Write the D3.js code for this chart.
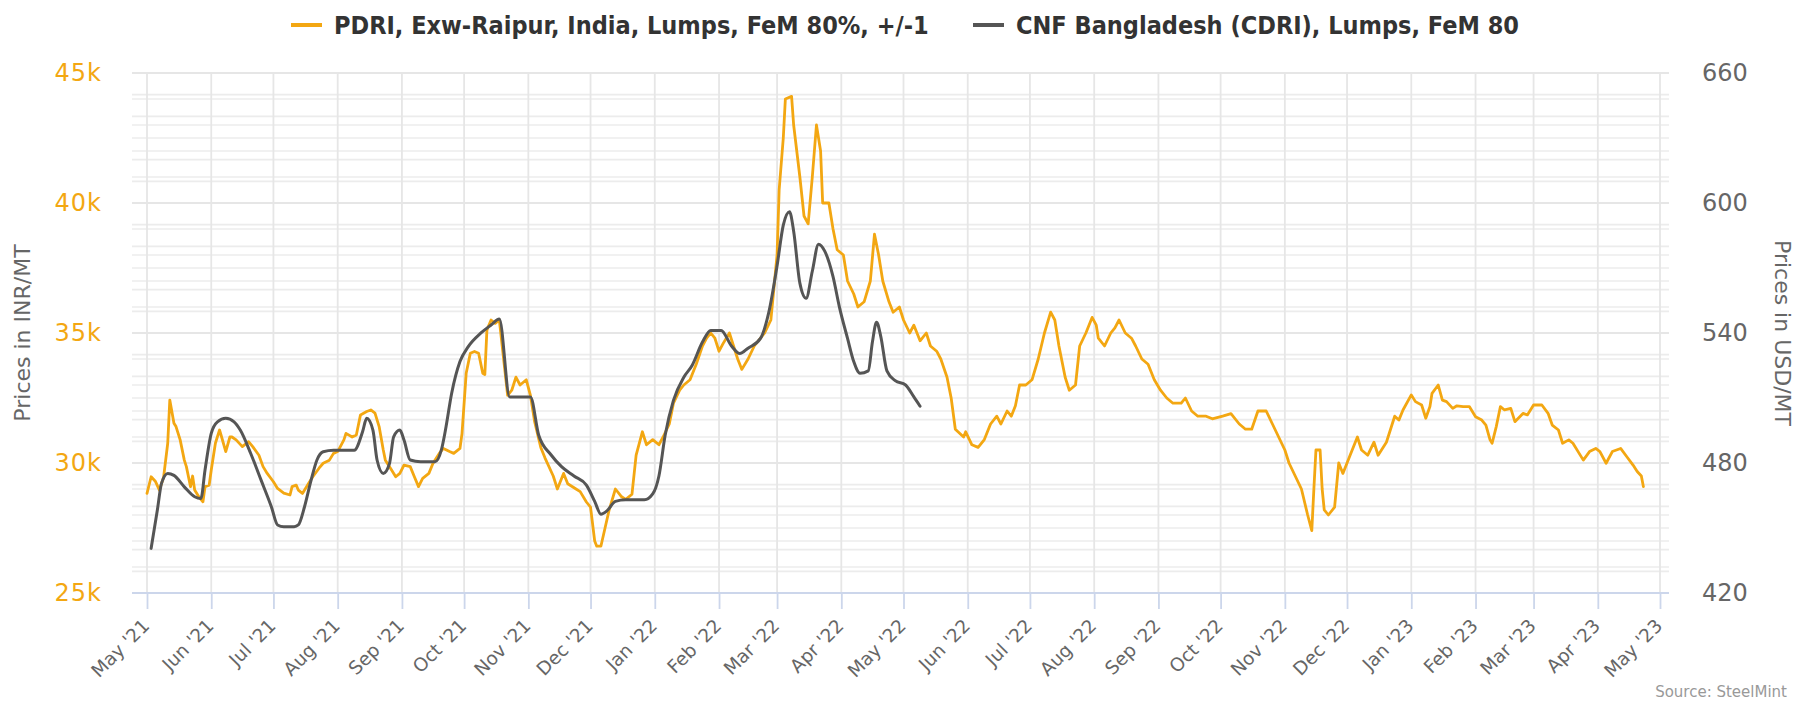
<!DOCTYPE html>
<html>
<head>
<meta charset="utf-8">
<script src="https://cdn.jsdelivr.net/npm/d3@7"></script>
<style>
  html, body { margin: 0; padding: 0; background: #fff; }
  svg { display: block; }
</style>
</head>
<body>
<svg id="chart"></svg>
<script>
// series names, axis titles
const seriesNames = ["PDRI, Exw-Raipur, India, Lumps, FeM 80%, +/-1", "CNF Bangladesh (CDRI), Lumps, FeM 80"];
const axisTitles = ["Prices in INR/MT", "Prices in USD/MT"];
const sourceText = "Source: SteelMint";

// tick values
const xTickStart = "2021-05-01";
const xTickEnd = "2023-05-01";
const leftTicks = [25000, 30000, 35000, 40000, 45000];
const rightTicks = [420, 480, 540, 600, 660];
const leftMinorStep = 1000;
const rightMinorStep = 10;

// PDRI Raipur, INR/MT (left axis)
const pdriRaipur = [
  ["2021-05-01", 28835], ["2021-05-03", 29470], ["2021-05-05", 29300], ["2021-05-07", 28960],
  ["2021-05-09", 29450], ["2021-05-11", 30760], ["2021-05-12", 32420], ["2021-05-14", 31530],
  ["2021-05-15", 31400], ["2021-05-17", 30890], ["2021-05-19", 30110], ["2021-05-20", 29860],
  ["2021-05-22", 29090], ["2021-05-23", 29500], ["2021-05-24", 28960], ["2021-05-26", 28700],
  ["2021-05-28", 28510], ["2021-05-29", 29090], ["2021-05-31", 29150], ["2021-06-01", 29730],
  ["2021-06-03", 30760], ["2021-06-05", 31270], ["2021-06-06", 31000], ["2021-06-08", 30440],
  ["2021-06-10", 31000], ["2021-06-11", 31000], ["2021-06-13", 30890], ["2021-06-16", 30630],
  ["2021-06-19", 30820], ["2021-06-21", 30630], ["2021-06-24", 30300], ["2021-06-26", 29860],
  ["2021-06-28", 29600], ["2021-07-01", 29280], ["2021-07-03", 29020], ["2021-07-06", 28840],
  ["2021-07-09", 28770], ["2021-07-10", 29090], ["2021-07-12", 29150], ["2021-07-13", 28960],
  ["2021-07-15", 28830], ["2021-07-18", 29220], ["2021-07-20", 29470], ["2021-07-23", 29800],
  ["2021-07-25", 29990], ["2021-07-28", 30110], ["2021-07-30", 30370], ["2021-08-01", 30440],
  ["2021-08-04", 30890], ["2021-08-05", 31140], ["2021-08-08", 31000], ["2021-08-10", 31080],
  ["2021-08-12", 31850], ["2021-08-15", 31980], ["2021-08-17", 32040], ["2021-08-19", 31920],
  ["2021-08-21", 31400], ["2021-08-23", 30500], ["2021-08-24", 30110], ["2021-08-27", 29730],
  ["2021-08-29", 29470], ["2021-08-31", 29600], ["2021-09-02", 29920], ["2021-09-05", 29860],
  ["2021-09-07", 29470], ["2021-09-09", 29090], ["2021-09-11", 29410], ["2021-09-14", 29600],
  ["2021-09-16", 29990], ["2021-09-19", 30370], ["2021-09-21", 30560], ["2021-09-24", 30440],
  ["2021-09-26", 30370], ["2021-09-29", 30560], ["2021-09-30", 31140], ["2021-10-02", 33450],
  ["2021-10-04", 34220], ["2021-10-06", 34290], ["2021-10-08", 34220], ["2021-10-10", 33450],
  ["2021-10-11", 33400], ["2021-10-12", 35110], ["2021-10-14", 35500], ["2021-10-16", 35370],
  ["2021-10-18", 35500], ["2021-10-22", 32600], ["2021-10-24", 32800], ["2021-10-26", 33300],
  ["2021-10-28", 33000], ["2021-10-31", 33200], ["2021-11-02", 32600], ["2021-11-04", 31600],
  ["2021-11-07", 30600], ["2021-11-09", 30200], ["2021-11-13", 29500], ["2021-11-15", 29000],
  ["2021-11-18", 29600], ["2021-11-20", 29200], ["2021-11-24", 29000], ["2021-11-26", 28900],
  ["2021-11-29", 28500], ["2021-12-01", 28300], ["2021-12-03", 27000], ["2021-12-04", 26800],
  ["2021-12-06", 26800], ["2021-12-08", 27500], ["2021-12-10", 28200], ["2021-12-13", 29000],
  ["2021-12-16", 28700], ["2021-12-18", 28600], ["2021-12-21", 28800], ["2021-12-23", 30300],
  ["2021-12-26", 31200], ["2021-12-28", 30700], ["2021-12-31", 30900], ["2022-01-03", 30700],
  ["2022-01-05", 31000], ["2022-01-08", 31500], ["2022-01-10", 32300], ["2022-01-13", 32800],
  ["2022-01-15", 33000], ["2022-01-18", 33200], ["2022-01-21", 33800], ["2022-01-24", 34500],
  ["2022-01-26", 34800], ["2022-01-28", 35000], ["2022-01-30", 34800], ["2022-02-01", 34300],
  ["2022-02-03", 34600], ["2022-02-06", 35000], ["2022-02-08", 34500], ["2022-02-10", 34000],
  ["2022-02-12", 33600], ["2022-02-15", 34000], ["2022-02-18", 34500], ["2022-02-21", 34800],
  ["2022-02-23", 35000], ["2022-02-26", 35500], ["2022-03-01", 38000], ["2022-03-02", 40500],
  ["2022-03-04", 42500], ["2022-03-05", 44000], ["2022-03-08", 44100], ["2022-03-09", 43000],
  ["2022-03-12", 41000], ["2022-03-14", 39500], ["2022-03-16", 39200], ["2022-03-18", 41000],
  ["2022-03-20", 43000], ["2022-03-22", 42000], ["2022-03-23", 40000], ["2022-03-26", 40000],
  ["2022-03-28", 39000], ["2022-03-30", 38200], ["2022-04-02", 38000], ["2022-04-04", 37000],
  ["2022-04-07", 36500], ["2022-04-09", 36000], ["2022-04-12", 36200], ["2022-04-15", 37000],
  ["2022-04-17", 38800], ["2022-04-19", 38000], ["2022-04-21", 37000], ["2022-04-24", 36200],
  ["2022-04-26", 35800], ["2022-04-29", 36000], ["2022-05-01", 35500], ["2022-05-04", 35000],
  ["2022-05-06", 35300], ["2022-05-09", 34700], ["2022-05-12", 35000], ["2022-05-14", 34500],
  ["2022-05-17", 34300], ["2022-05-19", 34000], ["2022-05-22", 33300], ["2022-05-24", 32500],
  ["2022-05-26", 31300], ["2022-05-30", 31000], ["2022-05-31", 31200], ["2022-06-03", 30700],
  ["2022-06-06", 30600], ["2022-06-09", 30900], ["2022-06-12", 31500], ["2022-06-15", 31800],
  ["2022-06-17", 31500], ["2022-06-20", 32000], ["2022-06-22", 31800], ["2022-06-24", 32200],
  ["2022-06-26", 33000], ["2022-06-29", 33000], ["2022-07-02", 33200], ["2022-07-05", 34000],
  ["2022-07-08", 35000], ["2022-07-11", 35800], ["2022-07-13", 35500], ["2022-07-15", 34500],
  ["2022-07-18", 33300], ["2022-07-20", 32800], ["2022-07-23", 33000], ["2022-07-25", 34500],
  ["2022-07-28", 35000], ["2022-07-31", 35600], ["2022-08-02", 35300], ["2022-08-03", 34800],
  ["2022-08-06", 34500], ["2022-08-09", 35000], ["2022-08-11", 35200], ["2022-08-13", 35500],
  ["2022-08-16", 35000], ["2022-08-19", 34800], ["2022-08-21", 34500], ["2022-08-24", 34000],
  ["2022-08-27", 33800], ["2022-08-30", 33200], ["2022-09-02", 32800], ["2022-09-05", 32500],
  ["2022-09-08", 32300], ["2022-09-12", 32300], ["2022-09-14", 32500], ["2022-09-17", 32000],
  ["2022-09-20", 31800], ["2022-09-24", 31800], ["2022-09-27", 31700], ["2022-10-02", 31800],
  ["2022-10-06", 31900], ["2022-10-10", 31500], ["2022-10-13", 31300], ["2022-10-16", 31300],
  ["2022-10-19", 32000], ["2022-10-23", 32000], ["2022-10-26", 31500], ["2022-10-29", 31000],
  ["2022-11-01", 30500], ["2022-11-03", 30000], ["2022-11-06", 29500], ["2022-11-09", 29000],
  ["2022-11-12", 28000], ["2022-11-14", 27400], ["2022-11-15", 29000], ["2022-11-16", 30500],
  ["2022-11-18", 30500], ["2022-11-19", 29000], ["2022-11-20", 28200], ["2022-11-22", 28000],
  ["2022-11-25", 28300], ["2022-11-27", 30000], ["2022-11-29", 29600], ["2022-12-02", 30200],
  ["2022-12-06", 31000], ["2022-12-08", 30500], ["2022-12-11", 30300], ["2022-12-14", 30800],
  ["2022-12-16", 30300], ["2022-12-20", 30800], ["2022-12-24", 31800], ["2022-12-26", 31650],
  ["2022-12-28", 32040], ["2023-01-01", 32620], ["2023-01-03", 32360], ["2023-01-06", 32230],
  ["2023-01-08", 31720], ["2023-01-10", 32170], ["2023-01-11", 32680], ["2023-01-14", 33000],
  ["2023-01-16", 32420], ["2023-01-18", 32360], ["2023-01-21", 32100], ["2023-01-23", 32200],
  ["2023-01-26", 32170], ["2023-01-29", 32170], ["2023-02-01", 31780], ["2023-02-04", 31650],
  ["2023-02-06", 31460], ["2023-02-08", 30890], ["2023-02-09", 30760], ["2023-02-11", 31400],
  ["2023-02-13", 32170], ["2023-02-15", 32040], ["2023-02-18", 32100], ["2023-02-20", 31590],
  ["2023-02-24", 31910], ["2023-02-26", 31850], ["2023-03-01", 32230], ["2023-03-05", 32230],
  ["2023-03-08", 31910], ["2023-03-10", 31460], ["2023-03-13", 31270], ["2023-03-15", 30760],
  ["2023-03-18", 30890], ["2023-03-20", 30760], ["2023-03-23", 30370], ["2023-03-25", 30110],
  ["2023-03-28", 30440], ["2023-03-31", 30560], ["2023-04-02", 30440], ["2023-04-05", 29990],
  ["2023-04-08", 30440], ["2023-04-12", 30560], ["2023-04-15", 30240], ["2023-04-18", 29920],
  ["2023-04-20", 29670], ["2023-04-22", 29500], ["2023-04-23", 29090]
];

// CDRI Bangladesh, USD/MT (right axis)
const cdriBangladesh = [
  ["2021-05-03", 440.6], ["2021-05-06", 458.3], ["2021-05-08", 470.6], ["2021-05-11", 475.2],
  ["2021-05-14", 474.3], ["2021-05-19", 469.0], ["2021-05-24", 464.4], ["2021-05-27", 463.6],
  ["2021-05-29", 476.8], ["2021-06-01", 493.7], ["2021-06-04", 499.0], ["2021-06-08", 500.6],
  ["2021-06-12", 499.0], ["2021-06-15", 495.2], ["2021-06-20", 484.5], ["2021-06-25", 472.2],
  ["2021-06-30", 459.8], ["2021-07-03", 451.4], ["2021-07-06", 450.6], ["2021-07-11", 450.6],
  ["2021-07-13", 451.4], ["2021-07-16", 459.8], ["2021-07-19", 471.4], ["2021-07-22", 481.4],
  ["2021-07-25", 485.2], ["2021-07-30", 485.9], ["2021-08-09", 485.9], ["2021-08-13", 494.4],
  ["2021-08-15", 500.6], ["2021-08-18", 495.2], ["2021-08-20", 481.4], ["2021-08-23", 475.2],
  ["2021-08-26", 479.8], ["2021-08-28", 492.1], ["2021-08-31", 495.2], ["2021-09-02", 490.6],
  ["2021-09-05", 481.4], ["2021-09-10", 480.6], ["2021-09-17", 480.6], ["2021-09-20", 485.9],
  ["2021-09-22", 495.2], ["2021-09-25", 512.2], ["2021-09-29", 526.8], ["2021-10-03", 533.7],
  ["2021-10-09", 539.9], ["2021-10-14", 543.7], ["2021-10-18", 546.5], ["2021-10-23", 510.5],
  ["2021-11-02", 510.5], ["2021-11-06", 492.8], ["2021-11-12", 483.7], ["2021-11-17", 478.3],
  ["2021-11-23", 474.0], ["2021-11-29", 469.8], ["2021-12-03", 462.3], ["2021-12-06", 456.4],
  ["2021-12-09", 458.0], ["2021-12-13", 462.3], ["2021-12-18", 463.0], ["2021-12-27", 463.0],
  ["2021-12-31", 465.7], ["2022-01-03", 474.0], ["2022-01-06", 492.8], ["2022-01-10", 508.9],
  ["2022-01-15", 519.6], ["2022-01-19", 525.0], ["2022-01-24", 535.8], ["2022-01-28", 541.2],
  ["2022-02-02", 541.2], ["2022-02-07", 534.0], ["2022-02-11", 530.5], ["2022-02-15", 533.0],
  ["2022-02-21", 537.5], ["2022-02-25", 549.5], ["2022-03-01", 571.0], ["2022-03-04", 589.8],
  ["2022-03-07", 596.0], ["2022-03-09", 587.0], ["2022-03-12", 563.0], ["2022-03-15", 556.0],
  ["2022-03-18", 568.5], ["2022-03-21", 581.0], ["2022-03-24", 577.8], ["2022-03-28", 566.0],
  ["2022-03-31", 552.3], ["2022-04-04", 537.5], ["2022-04-07", 526.8], ["2022-04-10", 521.4],
  ["2022-04-14", 522.5], ["2022-04-16", 535.8], ["2022-04-18", 545.0], ["2022-04-20", 538.6],
  ["2022-04-23", 522.5], ["2022-04-27", 518.0], ["2022-05-02", 516.0], ["2022-05-06", 510.5],
  ["2022-05-09", 506.2]
];

const orange = '#f3a712';
const darkLine = '#555555';
const gridColor = '#e6e6e6';
const axisColor = '#ccd6eb';
const textGray = '#666666';

const width = 1820;
const height = 704;
const plot = {left: 132, right: 1669, top: 73, bottom: 593};

const parseDate = d3.utcParse('%Y-%m-%d');

let svg = d3.select('#chart')
  .attr('width', width)
  .attr('height', height)
  .style('font-family', '"DejaVu Sans", Verdana, sans-serif');

svg.append('rect')
  .attr('width', width)
  .attr('height', height)
  .attr('fill', '#fff');

// scales
const xScale = d3.scaleUtc()
  .domain([parseDate(xTickStart), parseDate(xTickEnd)])
  .range([147, 1660]);

const yLeft = d3.scaleLinear()
  .domain([leftTicks[0], leftTicks[leftTicks.length - 1]])
  .range([plot.bottom, plot.top]);

const yRight = d3.scaleLinear()
  .domain([rightTicks[0], rightTicks[rightTicks.length - 1]])
  .range([plot.bottom, plot.top]);

const monthTicks = d3.utcMonth.range(parseDate(xTickStart), d3.utcDay.offset(parseDate(xTickEnd), 1));

// horizontal grid: minor lines of both axes, then major
let grid = svg.append('g').attr('class', 'grid');
const leftMinor = d3.range(leftTicks[0], leftTicks[leftTicks.length - 1] + 1, leftMinorStep);
const rightMinor = d3.range(rightTicks[0], rightTicks[rightTicks.length - 1] + 1, rightMinorStep);

grid.selectAll('line.lminor')
  .data(leftMinor)
  .enter().append('line')
  .attr('class', 'lminor')
  .attr('x1', plot.left).attr('x2', plot.right)
  .attr('y1', d => yLeft(d)).attr('y2', d => yLeft(d))
  .attr('stroke', '#ececec').attr('stroke-width', 1.6);

grid.selectAll('line.rminor')
  .data(rightMinor)
  .enter().append('line')
  .attr('class', 'rminor')
  .attr('x1', plot.left).attr('x2', plot.right)
  .attr('y1', d => yRight(d)).attr('y2', d => yRight(d))
  .attr('stroke', '#ececec').attr('stroke-width', 1.6);

grid.selectAll('line.major')
  .data(leftTicks)
  .enter().append('line')
  .attr('class', 'major')
  .attr('x1', plot.left).attr('x2', plot.right)
  .attr('y1', d => yLeft(d)).attr('y2', d => yLeft(d))
  .attr('stroke', gridColor).attr('stroke-width', 1.8);

// vertical grid
grid.selectAll('line.vert')
  .data(monthTicks)
  .enter().append('line')
  .attr('class', 'vert')
  .attr('x1', d => xScale(d)).attr('x2', d => xScale(d))
  .attr('y1', plot.top).attr('y2', plot.bottom)
  .attr('stroke', gridColor).attr('stroke-width', 1.8);

// x axis
const xAxis = d3.axisBottom(xScale)
  .tickValues(monthTicks)
  .tickFormat(d3.utcFormat("%b '%y"))
  .tickSize(16)
  .tickPadding(8);

let xAxisG = svg.append('g')
  .attr('transform', `translate(0, ${plot.bottom})`)
  .call(xAxis);
xAxisG.select('.domain').remove();
xAxisG.append('line')
  .attr('x1', plot.left).attr('x2', plot.right)
  .attr('stroke', axisColor).attr('stroke-width', 2);
xAxisG.selectAll('.tick line').attr('stroke', axisColor).attr('stroke-width', 1.8);
xAxisG.selectAll('.tick text')
  .attr('fill', textGray)
  .style('font-size', '18.5px')
  .style('font-family', '"DejaVu Sans", Verdana, sans-serif')
  .attr('text-anchor', 'end')
  .attr('dy', null)
  .attr('y', 0)
  .attr('transform', 'translate(3, 34) rotate(-45)');

// left axis
const leftAxis = d3.axisLeft(yLeft)
  .tickValues(leftTicks)
  .tickFormat(d => (d / 1000) + 'k')
  .tickSize(0)
  .tickPadding(0);

let leftG = svg.append('g')
  .attr('transform', 'translate(102, 0)')
  .call(leftAxis);
leftG.select('.domain').remove();
leftG.selectAll('.tick text')
  .attr('fill', orange)
  .style('font-size', '24px')
  .style('letter-spacing', '1px')
  .style('font-family', '"DejaVu Sans", Verdana, sans-serif');

// right axis
const rightAxis = d3.axisRight(yRight)
  .tickValues(rightTicks)
  .tickSize(0)
  .tickPadding(0);

let rightG = svg.append('g')
  .attr('transform', 'translate(1702, 0)')
  .call(rightAxis);
rightG.select('.domain').remove();
rightG.selectAll('.tick text')
  .attr('fill', textGray)
  .style('font-size', '24px')
  .style('font-family', '"DejaVu Sans", Verdana, sans-serif');

// axis titles
svg.append('text')
  .attr('transform', `translate(30, ${(plot.top + plot.bottom) / 2}) rotate(-90)`)
  .attr('text-anchor', 'middle')
  .attr('fill', textGray)
  .style('font-size', '22px')
  .text(axisTitles[0]);

svg.append('text')
  .attr('transform', `translate(1775, ${(plot.top + plot.bottom) / 2}) rotate(90)`)
  .attr('text-anchor', 'middle')
  .attr('fill', textGray)
  .style('font-size', '22px')
  .text(axisTitles[1]);

// lines
const pdriData = pdriRaipur.map(d => ({date: parseDate(d[0]), value: d[1]}));
const cdriData = cdriBangladesh.map(d => ({date: parseDate(d[0]), value: d[1]}));

const pdriLine = d3.line()
  .x(d => xScale(d.date))
  .y(d => yLeft(d.value));

const cdriLine = d3.line()
  .curve(d3.curveMonotoneX)
  .x(d => xScale(d.date))
  .y(d => yRight(d.value));

svg.append('path')
  .datum(pdriData)
  .attr('d', pdriLine)
  .attr('fill', 'none')
  .attr('stroke', orange)
  .attr('stroke-width', 2.8)
  .attr('stroke-linejoin', 'round')
  .attr('stroke-linecap', 'round');

svg.append('path')
  .datum(cdriData)
  .attr('d', cdriLine)
  .attr('fill', 'none')
  .attr('stroke', darkLine)
  .attr('stroke-width', 3)
  .attr('stroke-linejoin', 'round')
  .attr('stroke-linecap', 'round');

// legend
const legendItems = [
  {name: seriesNames[0], color: orange, x: 291},
  {name: seriesNames[1], color: darkLine, x: 973}
];
let legend = svg.append('g').attr('class', 'legend');
legendItems.forEach(item => {
  legend.append('line')
    .attr('x1', item.x).attr('x2', item.x + 31)
    .attr('y1', 25).attr('y2', 25)
    .attr('stroke', item.color)
    .attr('stroke-width', 4);
  legend.append('text')
    .attr('x', item.x + 43)
    .attr('y', 34)
    .attr('fill', '#333')
    .style('font-family', '"DejaVu Sans Condensed", "DejaVu Sans", sans-serif')
    .style('font-weight', 'bold')
    .style('font-size', '25px')
    .text(item.name);
});

// credits
svg.append('text')
  .attr('x', 1787)
  .attr('y', 697)
  .attr('text-anchor', 'end')
  .attr('fill', '#999')
  .style('font-size', '15px')
  .text(sourceText);
</script>
</body>
</html>
